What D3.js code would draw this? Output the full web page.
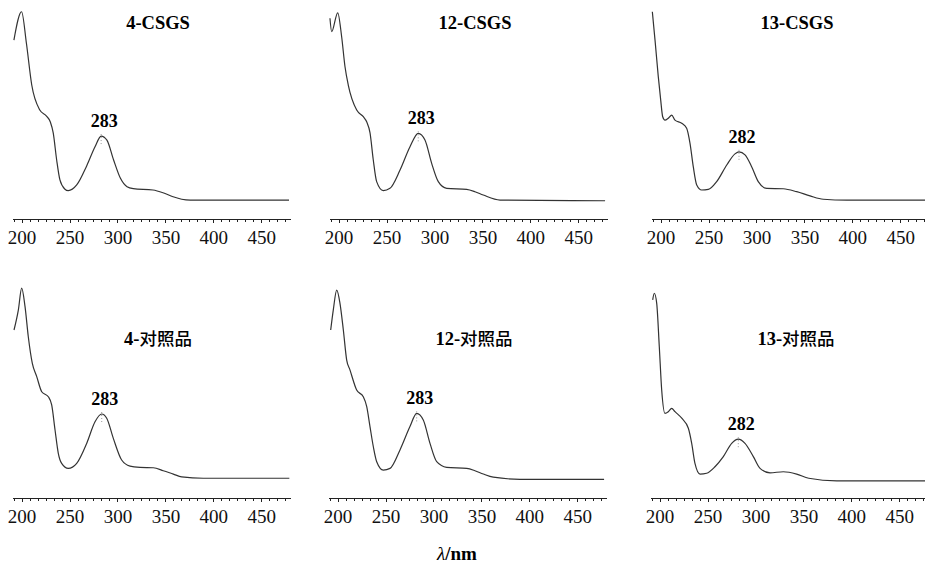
<!DOCTYPE html>
<html>
<head>
<meta charset="utf-8">
<script src="https://cdn.jsdelivr.net/npm/d3@7"></script>
<style>
  body { margin: 0; background: #fff; }
  svg { display: block; }
  .axis path, .axis line { stroke: #222; shape-rendering: crispEdges; }
  .axis text { font-family: "Liberation Serif", "Times New Roman", serif; font-size: 19px; fill: #111; }
</style>
</head>
<body>
<svg width="925" height="566"></svg>
<script>

// wavelength (nm) / absorbance pairs
let wl4S  = [192,200,205,210.6,219,226,230,233,236.6,240,245,248.7,257.5,268,276.6,283,289,296,303,310,316.5,337,347.5,358,367,376,479];
let ab4S  = [0.852,0.987,0.838,0.638,0.519,0.49,0.462,0.41,0.281,0.186,0.143,0.135,0.162,0.254,0.344,0.395,0.376,0.281,0.195,0.154,0.145,0.138,0.125,0.106,0.094,0.09,0.09];

let wl12S = [191,192.8,199.1,203.2,206.7,210.1,218.9,225.8,229.3,232.8,236.2,239.7,246.6,253.6,264.1,274.5,283.1,290.1,297.1,304,312.8,333.6,342.3,350.9,368.4,478];
let ab12S = [0.956,0.892,0.982,0.868,0.725,0.638,0.519,0.487,0.463,0.41,0.281,0.178,0.135,0.146,0.233,0.344,0.408,0.376,0.265,0.178,0.146,0.141,0.13,0.114,0.09,0.087];

let wl13S = [191.4,194.2,197.6,200.1,202.2,204.6,208,211.6,215,222,227.2,230.7,234.1,237.7,242.9,249.8,258.5,269,277.6,281.8,288.1,295,301.9,310.7,328,342,355.9,369.7,394.2,480];
let ab13S = [0.987,0.852,0.678,0.567,0.487,0.471,0.48,0.495,0.471,0.456,0.432,0.36,0.249,0.162,0.138,0.141,0.178,0.257,0.31,0.32,0.305,0.249,0.178,0.146,0.144,0.13,0.11,0.094,0.09,0.09];

let wl4R  = [192.1,196.6,200.1,203.6,207,211.2,215.8,221,227.9,231.4,234.9,238.3,241.8,248.7,257.5,267.9,276.6,283.6,288.8,295.7,304.4,313.1,323.5,337.4,347.8,358.3,367,389.6,479.3];
let ab4R  = [0.8,0.895,0.999,0.911,0.768,0.641,0.578,0.506,0.482,0.443,0.324,0.213,0.165,0.141,0.165,0.26,0.363,0.4,0.38,0.284,0.181,0.152,0.146,0.144,0.13,0.114,0.101,0.094,0.094];

let wl12R = [192.8,195.5,199.1,202.5,206,209.5,212.9,219.9,226.8,230.4,233.8,237.3,240.8,247.7,254.7,265.1,275.5,282.5,289.4,296.4,303.4,313.8,334.7,343.3,352,362.4,390.3,478];
let ab12R = [0.8,0.895,0.99,0.927,0.8,0.657,0.61,0.514,0.482,0.435,0.34,0.244,0.173,0.133,0.141,0.229,0.34,0.403,0.371,0.26,0.173,0.146,0.141,0.13,0.114,0.099,0.089,0.089];

let wl13R = [192.8,194.5,197,199.7,202.2,205.6,209.1,212.6,216.1,223.1,230,233.5,236.9,242.2,249.1,257.8,266.5,275.2,282.1,289.1,297.8,304.8,315.2,329.1,343,355.6,384.8,480];
let ab13R = [0.943,0.975,0.927,0.72,0.514,0.403,0.411,0.427,0.411,0.38,0.332,0.26,0.165,0.114,0.118,0.149,0.197,0.26,0.28,0.26,0.197,0.141,0.12,0.125,0.114,0.094,0.082,0.082];

let titleNums  = ["4-", "12-", "13-", "4-", "12-", "13-"];
let titleNames = ["CSGS", "CSGS", "CSGS", "对照品", "对照品", "对照品"];
let peaks  = [283, 283, 282, 283, 283, 282];
let tickLabels = [200, 250, 300, 350, 400, 450];

let series = [[wl4S, ab4S], [wl12S, ab12S], [wl13S, ab13S], [wl4R, ab4R], [wl12R, ab12R], [wl13R, ab13R]];

let svg = d3.select("svg");

// panel placement: left edge of x range and axis baseline
let panelLeft = [12, 329, 651, 12, 328, 650],
    panelAxisY = [219, 219, 219, 498, 498, 498],
    panelWidth = 278,
    panelHeight = 210;

let minorTicks = d3.range(-1, 35).map(function(i) { return 200 + i * 50 / 6; })
    .filter(function(v) { return v >= 190 && v <= 480; });

series.forEach(function(s, i) {
    let x = d3.scaleLinear().domain([190, 480]).range([panelLeft[i], panelLeft[i] + panelWidth]);
    let y = d3.scaleLinear().domain([0, 1]).range([panelAxisY[i], panelAxisY[i] - panelHeight]);

    let pts = s[0].map(function(w, k) { return [w, s[1][k]]; });

    let g = svg.append("g");

    // minor ticks
    g.append("g")
        .attr("class", "axis")
        .attr("transform", "translate(0," + panelAxisY[i] + ")")
        .call(d3.axisBottom(x).tickValues(minorTicks).tickSize(2.5).tickFormat(""))
        .select(".domain").remove();

    // main axis
    g.append("g")
        .attr("class", "axis")
        .attr("transform", "translate(0," + panelAxisY[i] + ")")
        .call(d3.axisBottom(x).tickValues(tickLabels).tickSize(4).tickSizeOuter(0).tickPadding(8));

    let line = d3.line()
        .x(function(d) { return x(d[0]); })
        .y(function(d) { return y(d[1]); })
        .curve(d3.curveMonotoneX);

    g.append("path")
        .datum(pts)
        .attr("fill", "none")
        .attr("stroke", "#333")
        .attr("stroke-width", 1.2)
        .attr("stroke-linejoin", "round")
        .attr("d", line);

    // peak marker + label
    let pk = pts.reduce(function(a, b) {
        return (Math.abs(b[0] - peaks[i]) < Math.abs(a[0] - peaks[i])) ? b : a;
    });
    g.append("line")
        .attr("x1", x(pk[0])).attr("x2", x(pk[0]))
        .attr("y1", y(pk[1]) - 2).attr("y2", y(pk[1]) + 8)
        .attr("stroke", "#999")
        .attr("stroke-dasharray", "1,2");
    g.append("text")
        .attr("x", x(pk[0]) + 3)
        .attr("y", y(pk[1]) - 9)
        .attr("text-anchor", "middle")
        .style("font-family", "'Liberation Serif', serif")
        .style("font-weight", "bold")
        .style("font-size", "18px")
        .text(peaks[i]);

    // panel title
    let t = g.append("text")
        .attr("x", x(335) + 7)
        .attr("y", i < 3 ? 29 : 345)
        .attr("text-anchor", "middle")
        .style("font-family", "'Liberation Serif', serif")
        .style("font-size", "18.5px");
    t.append("tspan").style("font-weight", "bold").text(titleNums[i]);
    t.append("tspan")
        .style("font-weight", i < 3 ? "bold" : "500")
        .style("font-family", i < 3 ? "'Liberation Serif', serif" : "'Noto Sans CJK SC', sans-serif")
        .style("font-size", i < 3 ? "18.5px" : "17.5px")
        .text(titleNames[i]);
});

// shared x axis title
let xt = svg.append("text")
    .attr("x", 457)
    .attr("y", 560)
    .attr("text-anchor", "middle")
    .style("font-family", "'Liberation Serif', serif")
    .style("font-size", "19px");
xt.append("tspan").style("font-style", "italic").text("λ");
xt.append("tspan").style("font-weight", "bold").text("/nm");

</script>
</body>
</html>
